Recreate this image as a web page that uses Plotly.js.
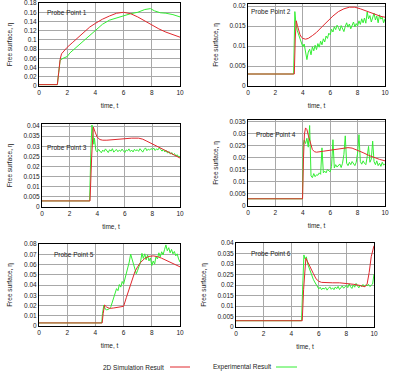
<!DOCTYPE html>
<html>
<head>
<meta charset="utf-8">
<script src="https://cdn.plot.ly/plotly-3.0.1.min.js"></script>
<style>
  html, body { margin: 0; padding: 0; background: #fff; }
  #chart { width: 393px; height: 373px; }
</style>
</head>
<body>
<div id="chart"></div>
<script>
// ---- Probe 1 ----
const p1SimT = [0, 1.3, 1.4, 1.5, 1.6, 1.8, 2.0, 2.4, 2.8, 3.2, 3.6, 4.0, 4.5, 5.0, 5.5, 6.0, 6.5, 7.0, 7.5, 8.0, 8.5, 9.0, 9.5, 10];
const p1SimV = [0.003, 0.003, 0.03, 0.058, 0.07, 0.078, 0.084, 0.095, 0.106, 0.117, 0.128, 0.136, 0.145, 0.152, 0.158, 0.16, 0.157, 0.15, 0.141, 0.132, 0.124, 0.117, 0.111, 0.106];
const p1ExpT = [0, 1.3, 1.4, 1.5, 1.7, 2.0, 2.2, 2.5, 3.0, 3.5, 4.0, 4.5, 5.0, 5.5, 6.0, 6.5, 7.0, 7.5, 7.9, 8.2, 8.6, 9.0, 9.5, 10];
const p1ExpV = [0.003, 0.003, 0.03, 0.056, 0.06, 0.064, 0.072, 0.08, 0.095, 0.107, 0.122, 0.134, 0.143, 0.148, 0.153, 0.157, 0.16, 0.166, 0.168, 0.163, 0.159, 0.158, 0.155, 0.15];

// ---- Probe 2 ----
const p2SimT = [0, 3.38, 3.45, 3.52, 3.6, 3.7, 3.8, 3.9, 4.0, 4.2, 4.4, 4.7, 5.0, 5.4, 5.8, 6.2, 6.6, 7.0, 7.4, 7.8, 8.2, 8.6, 9.0, 9.4, 9.7, 10];
const p2SimV = [0.003, 0.003, 0.012, 0.0163, 0.0152, 0.0138, 0.0128, 0.0122, 0.0119, 0.0117, 0.0119, 0.0126, 0.0134, 0.0148, 0.0162, 0.0175, 0.0186, 0.0193, 0.0197, 0.0197, 0.0193, 0.0188, 0.0182, 0.0177, 0.0174, 0.0172];
const p2ExpHeadT = [0, 3.33, 3.42];
const p2ExpHeadV = [0.003, 0.003, 0.0186];
const p2ExpStart = 3.5, p2ExpStep = 0.1;
const p2ExpV = [
  0.0155, 0.0138, 0.0128, 0.0118, 0.0108, 0.0098, 0.0105, 0.0082, 0.0066, 0.0085,
  0.0092, 0.0078, 0.0098, 0.0088, 0.0102, 0.0091, 0.0106, 0.0097, 0.0112, 0.0103,
  0.0118, 0.011, 0.0125, 0.0119, 0.0132, 0.0128, 0.0142, 0.0135, 0.0148, 0.0141,
  0.0152, 0.0146, 0.0138, 0.0151, 0.0144, 0.0136, 0.0149, 0.0158, 0.0147, 0.0155,
  0.0143, 0.0152, 0.016, 0.0148, 0.0156, 0.015, 0.0163, 0.0154, 0.0168, 0.0158,
  0.017, 0.0157, 0.0185, 0.0168, 0.0176, 0.016, 0.0171, 0.0182, 0.0165, 0.0175,
  0.0158, 0.0178, 0.0167, 0.0172, 0.0158, 0.0168
];

// ---- Probe 3 ----
const p3SimT = [0, 3.48, 3.6, 3.72, 3.85, 4.0, 4.2, 4.4, 4.7, 5.0, 5.5, 6.0, 6.5, 7.0, 7.3, 7.6, 8.0, 8.4, 8.8, 9.2, 9.6, 10];
const p3SimV = [0.003, 0.003, 0.025, 0.0395, 0.037, 0.0345, 0.0333, 0.033, 0.033, 0.0332, 0.0336, 0.0339, 0.034, 0.034, 0.0335, 0.0325, 0.031, 0.0296, 0.0284, 0.027, 0.0256, 0.0242];
const p3ExpHeadT = [0, 3.45, 3.55, 3.62, 3.7, 3.75, 3.8, 3.85, 3.9];
const p3ExpHeadV = [0.003, 0.003, 0.03, 0.0405, 0.036, 0.031, 0.034, 0.03, 0.028];
const p3ExpStart = 4.0, p3ExpStep = 0.1;
const p3ExpV = [
  0.0272, 0.0285, 0.0276, 0.0268, 0.0281, 0.0274, 0.0287, 0.0278, 0.0269, 0.0283,
  0.0276, 0.0288, 0.0271, 0.0279, 0.0284, 0.0273, 0.0281, 0.0275, 0.0286, 0.0277,
  0.0269, 0.0282, 0.0277, 0.0287, 0.0274, 0.0281, 0.0272, 0.0285, 0.0278, 0.0283,
  0.0275, 0.0288, 0.0279, 0.0271, 0.0284, 0.0292, 0.0278, 0.0286, 0.0281, 0.0289,
  0.0283, 0.0291, 0.0279, 0.0287, 0.0282, 0.0293, 0.0284, 0.0276, 0.0285, 0.0272,
  0.0279, 0.0266, 0.0274, 0.0261, 0.0269, 0.0257, 0.0264, 0.0252, 0.0258, 0.0247,
  0.0251
];

// ---- Probe 4 ----
const p4SimT = [0, 3.98, 4.05, 4.12, 4.2, 4.3, 4.4, 4.55, 4.7, 4.85, 5.0, 5.5, 6.0, 6.5, 7.0, 7.3, 7.6, 8.0, 8.4, 8.8, 9.2, 9.6, 10];
const p4SimV = [0.003, 0.003, 0.02, 0.03, 0.0325, 0.0318, 0.0295, 0.026, 0.0235, 0.0226, 0.0224, 0.0228, 0.0233, 0.0238, 0.0242, 0.0243, 0.0241, 0.0233, 0.0222, 0.0211, 0.0201, 0.0194, 0.0188];
const p4ExpHeadT = [0, 3.98, 4.03];
const p4ExpHeadV = [0.003, 0.003, 0.0255];
const p4ExpStart = 4.1, p4ExpStep = 0.1;
const p4ExpV = [
  0.0275, 0.026, 0.0282, 0.0245, 0.0335, 0.0125, 0.0118, 0.0135, 0.0122,
  0.013, 0.0128, 0.0138, 0.0132, 0.0242, 0.0138, 0.0145, 0.0138, 0.0152, 0.0146,
  0.0142, 0.0165, 0.0276, 0.0158, 0.0172, 0.0162, 0.0168, 0.0175, 0.016, 0.0178,
  0.0215, 0.0292, 0.0178, 0.0168, 0.0182, 0.0172, 0.0185, 0.0176, 0.0168, 0.0182,
  0.022, 0.0297, 0.0185, 0.0174, 0.0188, 0.0178, 0.0172, 0.0205, 0.0248, 0.0182,
  0.0195, 0.027, 0.0185, 0.0172, 0.0188, 0.0168, 0.0178, 0.0165, 0.0182, 0.017,
  0.0176
];

// ---- Probe 5 ----
const p5SimT = [0, 4.48, 4.55, 4.65, 4.8, 5.0, 5.3, 5.6, 6.0, 6.2, 6.4, 6.6, 6.8, 7.0, 7.2, 7.5, 7.8, 8.1, 8.4, 8.7, 9.0, 9.3, 9.6, 10];
const p5SimV = [0.003, 0.003, 0.012, 0.0205, 0.0185, 0.0172, 0.0176, 0.0182, 0.0192, 0.028, 0.037, 0.046, 0.053, 0.058, 0.062, 0.066, 0.068, 0.0685, 0.0678, 0.0662, 0.0642, 0.0618, 0.0598, 0.0578];
const p5ExpHeadT = [0, 4.45, 4.5];
const p5ExpHeadV = [0.003, 0.003, 0.012];
const p5ExpStart = 4.6, p5ExpStep = 0.1;
const p5ExpV = [
  0.0205, 0.0165, 0.0158, 0.0162,
  0.017, 0.019, 0.0235, 0.027, 0.031, 0.0365, 0.0345, 0.0405, 0.038, 0.0435,
  0.041, 0.0465, 0.051, 0.056, 0.0625, 0.0702, 0.0655, 0.06, 0.0555, 0.051,
  0.0545, 0.0585, 0.0625, 0.071, 0.066, 0.0705, 0.0645, 0.0695, 0.0635, 0.0665,
  0.059, 0.0635, 0.0605, 0.068, 0.0655, 0.0715, 0.0675, 0.0725, 0.0695, 0.0745,
  0.0792, 0.0735, 0.0765, 0.0715, 0.0748, 0.0705, 0.0728, 0.0685, 0.0705, 0.0655,
  0.0625
];

// ---- Probe 6 ----
const p6SimT = [0, 4.8, 4.9, 5.0, 5.06, 5.2, 5.4, 5.6, 5.8, 6.0, 6.2, 6.5, 7.0, 7.5, 8.0, 8.5, 9.0, 9.35, 9.5, 9.65, 9.8, 9.9, 10];
const p6SimV = [0.003, 0.003, 0.018, 0.031, 0.0328, 0.031, 0.028, 0.0256, 0.023, 0.0218, 0.0213, 0.0211, 0.0211, 0.0211, 0.0208, 0.0204, 0.0198, 0.0192, 0.0205, 0.026, 0.0336, 0.036, 0.0388];
const p6ExpHeadT = [0, 4.75, 4.85, 4.92];
const p6ExpHeadV = [0.003, 0.003, 0.022, 0.0344];
const p6ExpStart = 5.0, p6ExpStep = 0.1;
const p6ExpV = [
  0.0325, 0.0335, 0.03, 0.028, 0.0262, 0.0245, 0.0228, 0.0215, 0.0202, 0.0188,
  0.0182, 0.019, 0.0178, 0.0186, 0.0181, 0.0189, 0.0176, 0.0185, 0.0192, 0.018,
  0.0187, 0.0178, 0.0191, 0.0183, 0.0194, 0.0179, 0.0188, 0.0196, 0.0185, 0.0193,
  0.0199, 0.0188, 0.0206, 0.0192, 0.0184, 0.0201, 0.019, 0.0208, 0.0195, 0.0187,
  0.0199, 0.0192, 0.0203, 0.0194, 0.0201, 0.0196, 0.0204, 0.0193, 0.0199, 0.0205,
  0.0252
];

// ---- shared labels ----
const probeNames = ['Probe Point 1', 'Probe Point 2', 'Probe Point 3', 'Probe Point 4', 'Probe Point 5', 'Probe Point 6'];
const xTitle = 'time, t';
const yTitle = 'Free surface, η';
const simName = '2D Simulation Result';
const expName = 'Experimental Result';

const W = 393, H = 373;
const SIM_COLOR = '#e0282e';
const EXP_COLOR = '#33ee33';
const FONT = 'Liberation Sans, Arial, sans-serif';
const TXT = '#222';

// build the time grid for an evenly sampled record and prepend its head
function expSeries(headT, headV, start, step, vals) {
  const t = headT.slice(), v = headV.slice();
  vals.forEach((val, i) => { t.push(+(start + i * step).toFixed(3)); v.push(val); });
  return { t, v };
}

const panels = [
  { sim: [p1SimT, p1SimV], exp: { t: p1ExpT, v: p1ExpV }, yr: [0, 0.1802], dy: 0.02,
    px: [39, 180], py: [3, 86], lab: [45, 12] },
  { sim: [p2SimT, p2SimV], exp: expSeries(p2ExpHeadT, p2ExpHeadV, p2ExpStart, p2ExpStep, p2ExpV), yr: [0, 0.0205], dy: 0.005,
    px: [248, 385], py: [4, 86], lab: [249, 11] },
  { sim: [p3SimT, p3SimV], exp: expSeries(p3ExpHeadT, p3ExpHeadV, p3ExpStart, p3ExpStep, p3ExpV), yr: [0, 0.041], dy: 0.005,
    px: [42, 180], py: [124, 207], lab: [45, 147] },
  { sim: [p4SimT, p4SimV], exp: expSeries(p4ExpHeadT, p4ExpHeadV, p4ExpStart, p4ExpStep, p4ExpV), yr: [0, 0.0358], dy: 0.005,
    px: [248, 385], py: [120, 206], lab: [254, 134] },
  { sim: [p5SimT, p5SimV], exp: expSeries(p5ExpHeadT, p5ExpHeadV, p5ExpStart, p5ExpStep, p5ExpV), yr: [0, 0.0801], dy: 0.01,
    px: [39, 180], py: [244, 326], lab: [52, 254] },
  { sim: [p6SimT, p6SimV], exp: expSeries(p6ExpHeadT, p6ExpHeadV, p6ExpStart, p6ExpStep, p6ExpV), yr: [0, 0.0401], dy: 0.005,
    px: [236, 374], py: [243, 327], lab: [249, 253] }
];

const data = [];
const layout = {
  width: W, height: H,
  margin: { l: 0, r: 0, t: 0, b: 0 },
  paper_bgcolor: '#fff', plot_bgcolor: '#fff',
  showlegend: false,
  font: { family: FONT, size: 6.5, color: TXT },
  annotations: [], shapes: []
};

panels.forEach((p, i) => {
  const n = i + 1;
  const xa = 'x' + (n === 1 ? '' : n), ya = 'y' + (n === 1 ? '' : n);
  data.push({ x: p.exp.t, y: p.exp.v, xaxis: xa, yaxis: ya, type: 'scatter', mode: 'lines',
    name: expName, line: { color: EXP_COLOR, width: 1 } });
  data.push({ x: p.sim[0], y: p.sim[1], xaxis: xa, yaxis: ya, type: 'scatter', mode: 'lines',
    name: simName, line: { color: SIM_COLOR, width: 1 } });

  const axCommon = {
    showline: true, mirror: true, linecolor: '#000', linewidth: 1,
    showgrid: true, gridcolor: '#a8a8a8', gridwidth: 1,
    zeroline: false, ticks: '', ticklabeloverflow: 'allow',
    tickfont: { family: FONT, size: 6.5, color: TXT }
  };
  layout['xaxis' + (n === 1 ? '' : n)] = Object.assign({}, axCommon, {
    domain: [p.px[0] / W, p.px[1] / W], anchor: ya,
    range: [0, 10], dtick: 2, tick0: 0,
    title: { text: xTitle, font: { family: FONT, size: 6.5, color: TXT }, standoff: 8 }
  });
  layout['yaxis' + (n === 1 ? '' : n)] = Object.assign({}, axCommon, {
    domain: [1 - p.py[1] / H, 1 - p.py[0] / H], anchor: xa,
    range: p.yr, dtick: p.dy, tick0: 0,
    title: { text: yTitle, font: { family: FONT, size: 6.5, color: TXT }, standoff: 10 }
  });
  layout.annotations.push({
    text: probeNames[i], xref: 'paper', yref: 'paper',
    x: p.lab[0] / W, y: 1 - p.lab[1] / H, xanchor: 'left', yanchor: 'middle',
    showarrow: false, font: { family: FONT, size: 6.5, color: TXT }
  });
});

// key along the bottom: label followed by its line sample
const legendY = 1 - 367 / H;
layout.annotations.push({ text: simName, xref: 'paper', yref: 'paper', x: 166 / W, y: legendY,
  xanchor: 'right', yanchor: 'middle', showarrow: false, font: { family: FONT, size: 6.5, color: TXT } });
layout.annotations.push({ text: expName, xref: 'paper', yref: 'paper', x: 273 / W, y: legendY,
  xanchor: 'right', yanchor: 'middle', showarrow: false, font: { family: FONT, size: 6.5, color: TXT } });
layout.shapes.push({ type: 'line', xref: 'paper', yref: 'paper', x0: 170 / W, x1: 190 / W, y0: legendY, y1: legendY,
  line: { color: SIM_COLOR, width: 1 } });
layout.shapes.push({ type: 'line', xref: 'paper', yref: 'paper', x0: 276 / W, x1: 297 / W, y0: legendY, y1: legendY,
  line: { color: EXP_COLOR, width: 1 } });

Plotly.newPlot('chart', data, layout, { staticPlot: true, displayModeBar: false });
</script>
</body>
</html>
